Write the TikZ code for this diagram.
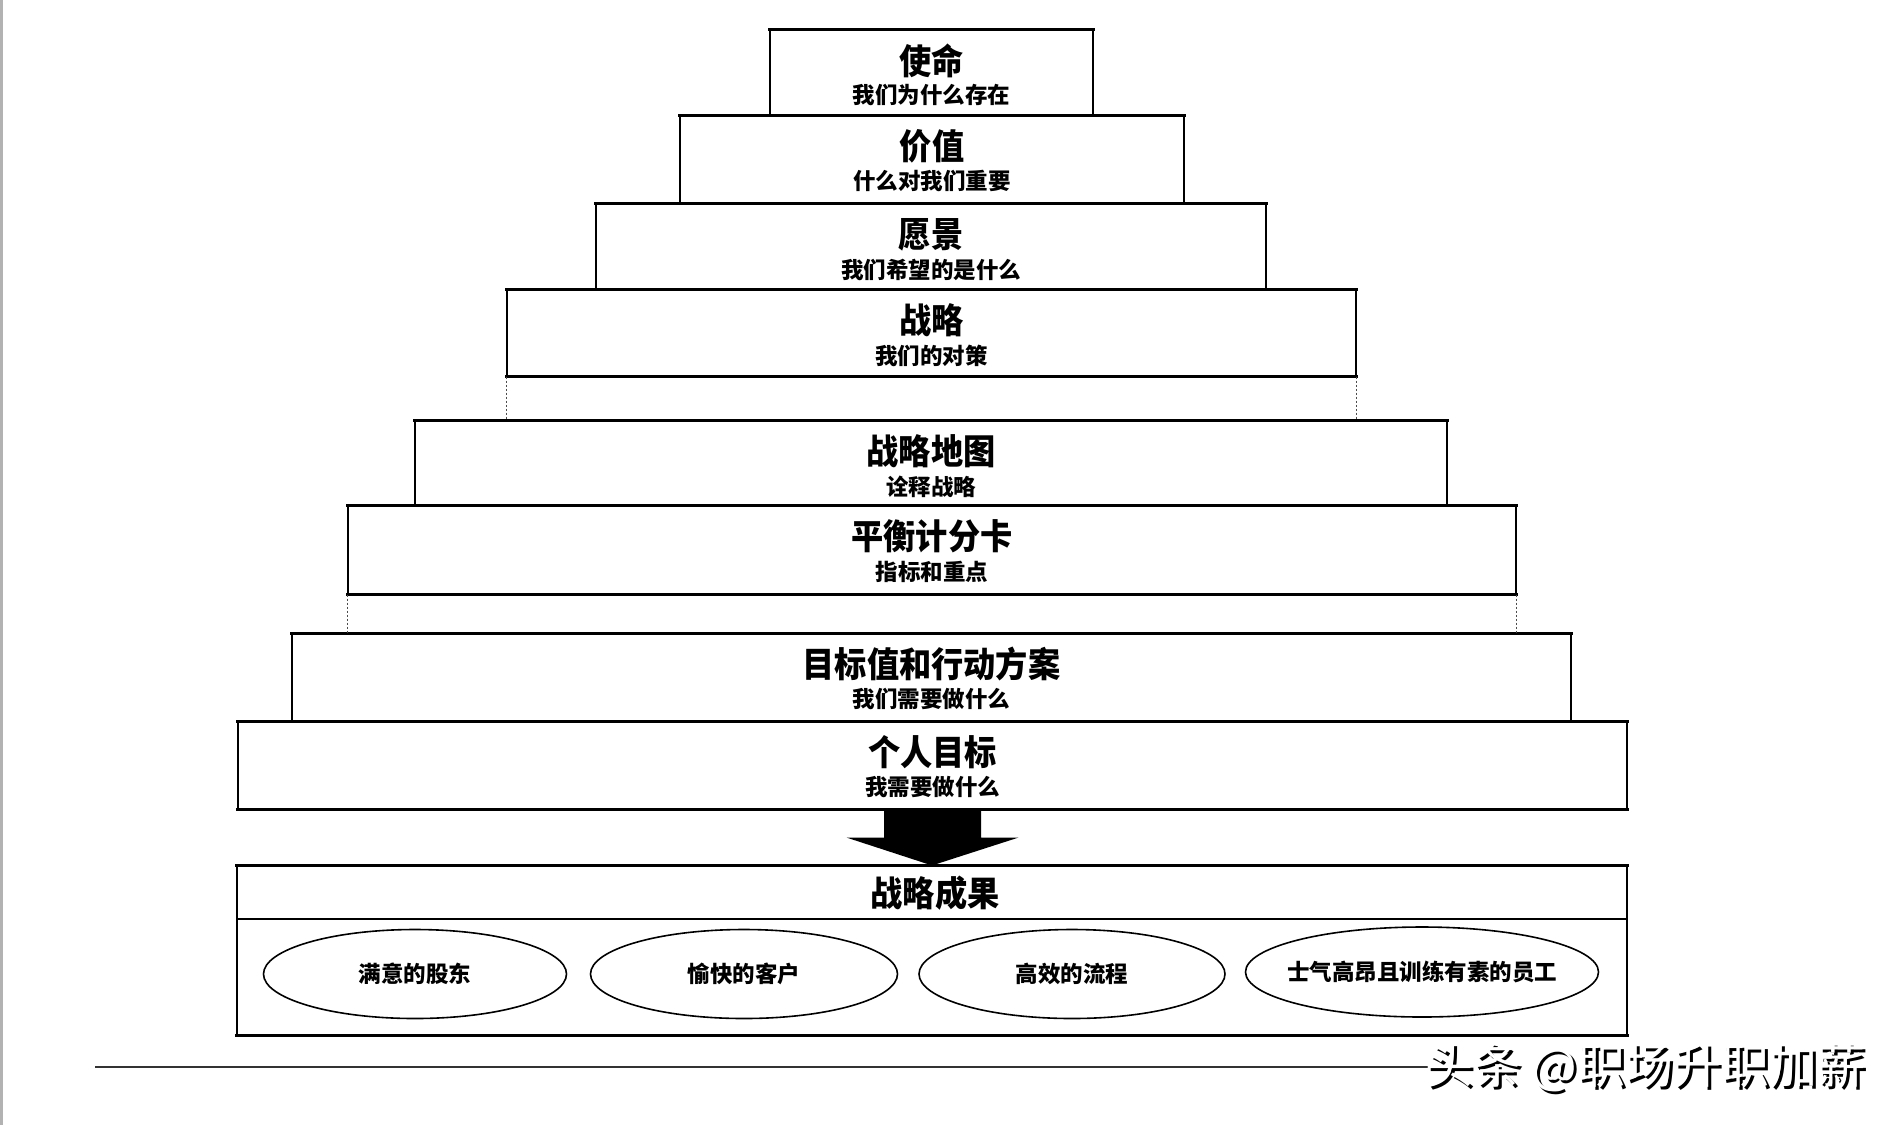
\documentclass[tikz,border=0pt]{standalone}
\usepackage{fontspec}
\newfontfamily\cjk{Noto Sans CJK SC}
\newfontfamily\cjkc[FakeStretch=0.92]{Noto Sans CJK SC}
\usetikzlibrary{shapes.geometric,calc}
\tikzset{
  lvl/.style={draw=black, line width=1.1pt, fill=white, inner sep=0pt},
  edge/.style={line width=2.6pt, line cap=rect},
  guide/.style={line width=0.9pt, dash pattern=on 2pt off 2pt, black!70},
  ttl/.style={font=\cjkc\bfseries\fontsize{35}{37}\selectfont, inner sep=0pt, anchor=center},
  sub/.style={font=\cjk\bfseries\fontsize{22.5}{24}\selectfont, inner sep=0pt, anchor=center},
  oval/.style={ellipse, draw=black, line width=1.6pt, inner sep=0pt},
  ovaltext/.style={font=\cjk\bfseries\fontsize{22.5}{24}\selectfont, inner sep=0pt, anchor=center},
}
\newcommand{\lvlbox}[7]{% name, left, right, top, bottom, title, subtitle
  \node[lvl, minimum width={#3-#2}, minimum height={#5-#4}] (#1) at ({(#2+#3)/2},{(#4+#5)/2}) {};
  \draw[edge] (#1.north west) -- (#1.north east);
  \draw[edge] (#1.south west) -- (#1.south east);
  \node[ttl] (#1t) at ($(#1.north)+(0,31)$) {#6};
  \node[sub] (#1s) at ($(#1.north)+(0,66)$) {#7};
}
\begin{document}
\begin{tikzpicture}[x=1pt, y=-1pt]
\useasboundingbox (0,0) rectangle (1902,1125);
\fill[white] (0,0) rectangle (1902,1125);
\coordinate (lt) at (1.5,0);
\coordinate (lb) at (1.5,1125);
\draw[black!30, line width=2.5pt] (lt) -- (lb);

\lvlbox{b1}{770}{1093}{30}{116}{使命}{我们为什么存在}
\lvlbox{b2}{680}{1184}{116}{204}{价值}{什么对我们重要}
\lvlbox{b3}{596}{1266}{204}{290}{愿景}{我们希望的是什么}
\lvlbox{b4}{507}{1356}{290}{376}{战略}{我们的对策}
\lvlbox{b5}{415}{1447}{421}{506}{战略地图}{诠释战略}
\lvlbox{b6}{348}{1516}{506}{594}{平衡计分卡}{指标和重点}
\lvlbox{b7}{292}{1571}{634}{722}{目标值和行动方案}{我们需要做什么}
\lvlbox{b8}{238}{1627}{722}{809}{个人目标}{我需要做什么}

% dotted guides
\draw[guide] (b4.south west) -- (b4.south west |- b5.north);
\draw[guide] (b4.south east) -- (b4.south east |- b5.north);
\draw[guide] (b6.south west) -- (b6.south west |- b7.north);
\draw[guide] (b6.south east) -- (b6.south east |- b7.north);

% outcome box
\node[lvl, minimum width=1390, minimum height=169] (b9) at (932,950.5) {};
\draw[edge] (b9.north west) -- (b9.north east);
\draw[edge] (b9.south west) -- (b9.south east);
\coordinate (dl) at (237,919);
\coordinate (dr) at (1627,919);
\draw[edge] (dl) -- (dr);
\node[ttl] (b9t) at (935,893) {战略成果};

% block arrow
\fill[black] ($(b8.south)+(-48.5,0)$) -- ($(b8.south)+(48.5,0)$) -- ($(b8.south)+(48.5,28)$)
  -- ($(b8.south)+(86,28)$) -- (b9.north) -- ($(b8.south)+(-86,28)$) -- ($(b8.south)+(-48.5,28)$) -- cycle;

% ellipses
\node[oval, minimum width=303, minimum height=89] (e1) at (415,974) {};
\node[oval, minimum width=307, minimum height=89] (e2) at (744,974) {};
\node[oval, minimum width=306, minimum height=89] (e3) at (1072,974) {};
\node[oval, minimum width=353, minimum height=90] (e4) at (1422,972) {};
\node[ovaltext] (e1t) at (e1.center) {满意的股东};
\node[ovaltext] (e2t) at (e2.center) {愉快的客户};
\node[ovaltext] (e3t) at (e3.center) {高效的流程};
\node[ovaltext] (e4t) at (e4.center) {士气高昂且训练有素的员工};

% bottom rule and watermark
\coordinate (r1) at (95,1067);
\coordinate (r2) at (1430,1067);
\draw[black!80, line width=1.6pt] (r1) -- (r2);
\node[font=\cjk\fontsize{48}{50}\selectfont, text=black, anchor=west, inner sep=0pt] (wm0) at (1428,1070) {头条 @职场升职加薪};
\node[font=\cjk\fontsize{48}{50}\selectfont, text=white, anchor=west, inner sep=0pt] (wm) at (1425,1067) {头条 @职场升职加薪};
\end{tikzpicture}
\end{document}
